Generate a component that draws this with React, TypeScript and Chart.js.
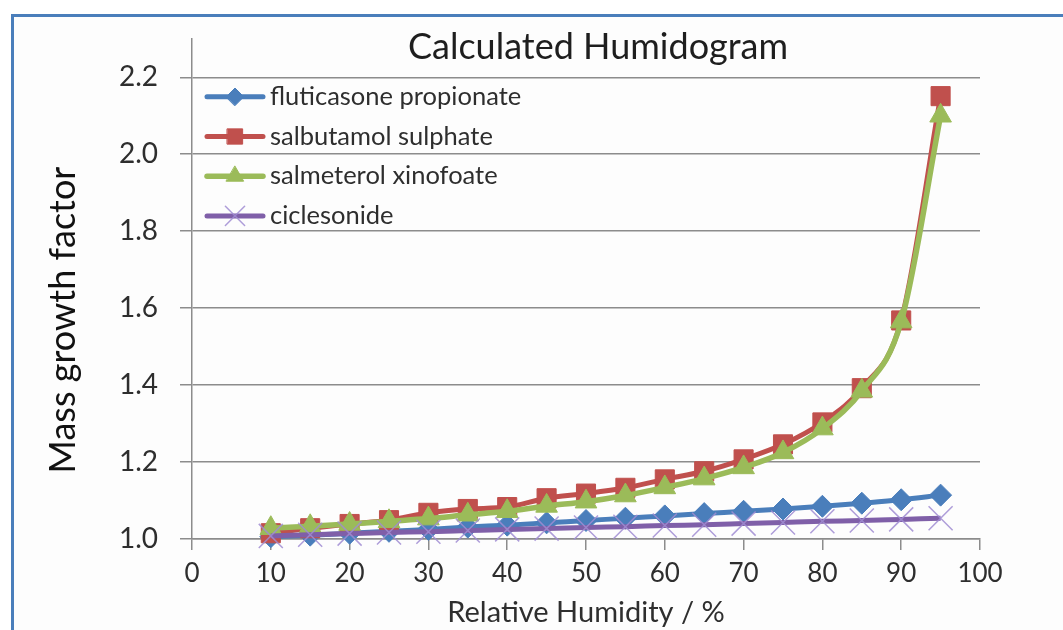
import React, { useEffect, useRef } from "react";
import { Chart, registerables } from "chart.js";
import { drawPoint } from "chart.js/helpers";

Chart.register(...registerables);

const humidity = [10, 15, 20, 25, 30, 35, 40, 45, 50, 55, 60, 65, 70, 75, 80, 85, 90, 95];
const fluticasone = [1.006, 1.01, 1.015, 1.02, 1.025, 1.031, 1.036, 1.042, 1.048, 1.054, 1.06, 1.066, 1.072, 1.078, 1.085, 1.093, 1.102, 1.114];
const salbutamol = [1.015, 1.028, 1.039, 1.049, 1.068, 1.078, 1.083, 1.106, 1.118, 1.133, 1.155, 1.176, 1.207, 1.246, 1.303, 1.392, 1.568, 2.151];
const salmeterol = [1.028, 1.033, 1.039, 1.046, 1.053, 1.063, 1.072, 1.086, 1.097, 1.113, 1.134, 1.157, 1.186, 1.225, 1.287, 1.385, 1.565, 2.1];
const ciclesonide = [1.008, 1.011, 1.014, 1.017, 1.019, 1.022, 1.025, 1.027, 1.03, 1.032, 1.035, 1.037, 1.04, 1.043, 1.046, 1.048, 1.051, 1.054];
const seriesNames = ["fluticasone propionate", "salbutamol sulphate", "salmeterol xinofoate", "ciclesonide"];
const chartTitle = "Calculated Humidogram";
const yTitle = "Mass growth factor";
const xTitle = "Relative Humidity / %";

const FONT = "Lato";
const TEXT = "#2e2e2e";
const GRID = "#8c8c8c";

const toXY = (ys: number[]) => ys.map((y, i) => ({ x: humidity[i], y }));

const textPlugin = {
  id: "customText",
  afterDraw(chart: any) {
    const ctx = chart.ctx;
    const ca = chart.chartArea;
    ctx.save();
    ctx.fillStyle = "#1e1e1e";
    ctx.font = `36px ${FONT}`;
    ctx.textAlign = "center";
    ctx.textBaseline = "middle";
    ctx.fillText(chartTitle, 598, 47);
    ctx.save();
    ctx.translate(63, 320);
    ctx.rotate(-Math.PI / 2);
    ctx.font = `36px ${FONT}`;
    ctx.fillStyle = "#111";
    ctx.fillText(yTitle, 0, 0);
    ctx.restore();
    const ds = chart.data.datasets;
    ds.forEach((d: any, row: number) => {
      const y = ca.top + 58 + row * 39.7;
      const x0 = ca.left + 15;
      const x1 = ca.left + 71;
      ctx.strokeStyle = d.borderColor;
      ctx.lineWidth = d.borderWidth;
      ctx.lineCap = "round";
      ctx.beginPath();
      ctx.moveTo(x0, y);
      ctx.lineTo(x1, y);
      ctx.stroke();
      ctx.fillStyle = d.pointBackgroundColor;
      ctx.strokeStyle = d.pointBorderColor;
      ctx.lineWidth = d.pointBorderWidth;
      drawPoint(ctx, { pointStyle: d.pointStyle, radius: d.pointRadius * 0.8, borderWidth: d.pointBorderWidth, rotation: 0 } as any, (x0 + x1) / 2, y);
      ctx.fillStyle = TEXT;
      ctx.font = `25.5px ${FONT}`;
      ctx.textAlign = "left";
      ctx.textBaseline = "middle";
      ctx.fillText(d.label, x1 + 7, y);
    });
    ctx.restore();
  },
};

export default function App() {
  const ref = useRef<HTMLCanvasElement | null>(null);
  useEffect(() => {
    if (!ref.current) return;
    const common = { fill: false, cubicInterpolationMode: "monotone" as const, clip: false as any, pointHoverRadius: 0 };
    const chart = new Chart(ref.current, {
      type: "line",
      data: {
        datasets: [
          {
            ...common,
            label: seriesNames[0],
            data: toXY(fluticasone),
            borderColor: "#4a7ebb",
            borderWidth: 5,
            pointStyle: "rectRot",
            pointRadius: 11,
            pointBackgroundColor: "#4a7ebb",
            pointBorderColor: "#4a7ebb",
            pointBorderWidth: 1,
            order: 4,
          },
          {
            ...common,
            label: seriesNames[1],
            data: toXY(salbutamol),
            borderColor: "#c0504d",
            borderWidth: 5,
            pointStyle: "rect",
            pointRadius: 13.5,
            pointBackgroundColor: "#c0504d",
            pointBorderColor: "#c0504d",
            pointBorderWidth: 1,
            order: 3,
          },
          {
            ...common,
            label: seriesNames[2],
            data: toXY(salmeterol),
            borderColor: "#9bbb59",
            borderWidth: 5.5,
            pointStyle: "triangle",
            pointRadius: 12.5,
            pointBackgroundColor: "#9bbb59",
            pointBorderColor: "#9bbb59",
            pointBorderWidth: 1,
            order: 2,
          },
          {
            ...common,
            label: seriesNames[3],
            data: toXY(ciclesonide),
            borderColor: "#7f5fa8",
            borderWidth: 5,
            pointStyle: "crossRot",
            pointRadius: 17,
            pointBackgroundColor: "rgba(160,140,210,0.85)",
            pointBorderColor: "rgba(160,140,210,0.85)",
            pointBorderWidth: 1.5,
            order: 1,
          },
        ],
      },
      options: {
        animation: false,
        responsive: false,
        maintainAspectRatio: false,
        layout: { padding: { left: 0, right: 83, top: 35, bottom: 0 } },
        plugins: { legend: { display: false }, tooltip: { enabled: false }, title: { display: false } },
        scales: {
          x: {
            type: "linear",
            min: 0,
            max: 100,
            ticks: { stepSize: 10, color: TEXT, font: { family: FONT, size: 26 }, padding: 8 },
            grid: { drawOnChartArea: false, drawTicks: true, tickLength: 11, color: GRID, lineWidth: 1.5 },
            border: { display: true, color: GRID, width: 1.5 },
            title: { display: true, text: xTitle, color: TEXT, font: { family: FONT, size: 29 }, padding: { top: 0, bottom: 0 } },
            afterFit: (s: any) => { s.height = 91; },
          },
          y: {
            type: "linear",
            min: 1.0,
            max: 2.3,
            ticks: { stepSize: 0.2, color: TEXT, font: { family: FONT, size: 28 }, padding: 22, callback: (v: any) => Number(v).toFixed(1) },
            afterBuildTicks: (s: any) => { s.ticks = s.ticks.filter((t: any) => t.value <= 2.2 + 1e-9); },
            grid: { drawOnChartArea: true, drawTicks: true, tickLength: 12, color: GRID, lineWidth: 1.5 },
            border: { display: true, color: GRID, width: 1.5 },
            afterFit: (s: any) => { s.width = 192; },
          },
        },
      },
      plugins: [textPlugin],
    });
    return () => chart.destroy();
  }, []);

  return (
    <div style={{ position: "fixed", left: 0, top: 0, width: 1063, height: 630, overflow: "hidden", background: "#ffffff" }}>
      <div style={{ position: "absolute", left: 11, top: 14, width: 1200, height: 800, borderLeft: "3px solid #4a7ebb", borderTop: "3px solid #4a7ebb", background: "#fdfdfd" }} />
      <canvas ref={ref} width={1063} height={630} style={{ position: "absolute", left: 0, top: 0, width: 1063, height: 630 }} />
    </div>
  );
}
